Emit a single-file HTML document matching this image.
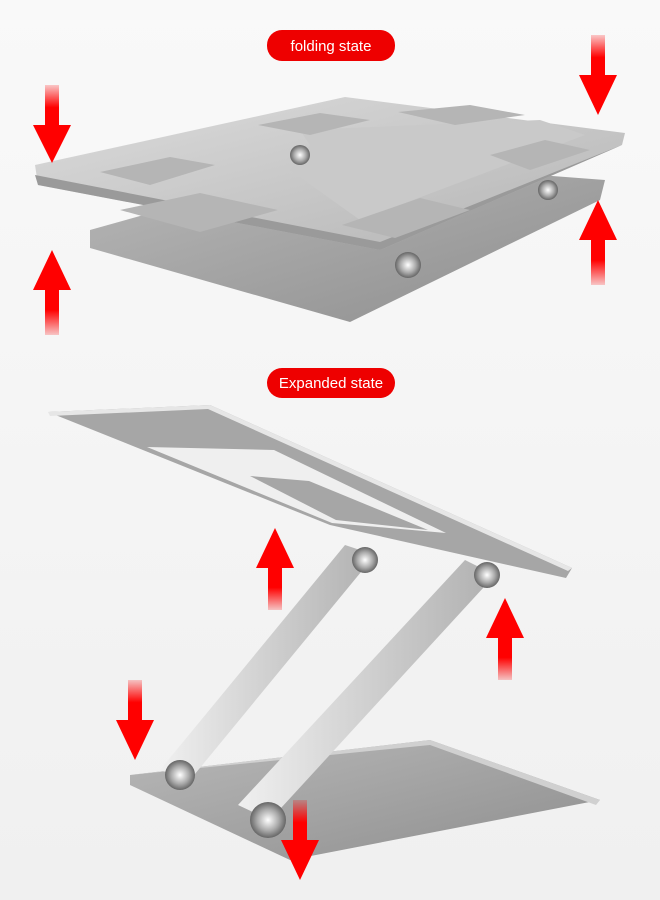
<!DOCTYPE html>
<html><head><meta charset="utf-8"><style>
html,body{margin:0;padding:0;background:#fff}
svg{display:block}
text{font-family:"Liberation Sans",sans-serif}
</style></head><body>
<svg width="660" height="900" viewBox="0 0 660 900" xmlns="http://www.w3.org/2000/svg">
<defs>
<linearGradient id="bg" x1="0" y1="0" x2="0" y2="1"><stop offset="0" stop-color="#f9f9f9"/><stop offset="1" stop-color="#f0f0f0"/></linearGradient>
<linearGradient id="plate" x1="0" y1="0" x2="1" y2="1"><stop offset="0" stop-color="#dcdcdc"/><stop offset="1" stop-color="#b4b4b4"/></linearGradient>
<linearGradient id="base" x1="0" y1="0" x2="1" y2="1"><stop offset="0" stop-color="#b8b8b8"/><stop offset="1" stop-color="#8e8e8e"/></linearGradient>
<linearGradient id="arm" x1="0" y1="0" x2="1" y2="0"><stop offset="0" stop-color="#f0f0f0"/><stop offset="1" stop-color="#b0b0b0"/></linearGradient>
<linearGradient id="au" x1="0" y1="1" x2="0" y2="0"><stop offset="0" stop-color="#ff0000" stop-opacity="0.2"/><stop offset="0.5" stop-color="#ff0000"/></linearGradient>
<linearGradient id="ad" x1="0" y1="0" x2="0" y2="1"><stop offset="0" stop-color="#ff0000" stop-opacity="0.2"/><stop offset="0.5" stop-color="#ff0000"/></linearGradient>
<radialGradient id="knob"><stop offset="0" stop-color="#fff"/><stop offset="0.6" stop-color="#aaa"/><stop offset="1" stop-color="#666"/></radialGradient>
</defs>
<rect width="660" height="900" fill="url(#bg)"/>

<!-- folding -->
<polygon points="90,230 340,160 605,180 600,200 350,322 90,248" fill="url(#base)"/>
<polygon points="35,165 345,97 625,133 622,145 380,250 38,185" fill="url(#plate)"/>
<polygon points="38,185 380,250 622,145 380,242 35,175" fill="#9a9a9a"/>
<polygon points="300,130 540,120 585,135 360,220 290,170 310,145" fill="#c9c9c9"/>
<g fill="#b5b5b5">
<polygon points="258,125 320,113 370,120 310,135"/>
<polygon points="398,112 470,105 525,115 455,125"/>
<polygon points="100,172 170,157 215,165 150,185"/>
<polygon points="120,210 200,193 278,210 200,232"/>
<polygon points="342,225 420,198 470,210 395,238"/>
<polygon points="490,155 545,140 590,150 530,170"/>
</g>
<circle cx="300" cy="155" r="10" fill="url(#knob)"/>
<circle cx="548" cy="190" r="10" fill="url(#knob)"/>
<circle cx="408" cy="265" r="13" fill="url(#knob)"/>

<!-- expanded -->
<polygon points="130,775 430,740 600,800 290,860 130,785" fill="url(#base)"/>
<polygon points="130,775 430,740 600,800 596,805 430,745" fill="#d0d0d0"/>
<polygon points="345,545 375,555 190,780 160,770" fill="url(#arm)"/>
<polygon points="465,560 495,575 270,820 238,805" fill="url(#arm)"/>
<polygon points="48,412 210,405 572,568 566,578 330,525" fill="#a6a6a6"/>
<polygon points="48,412 210,405 572,568 568,571 208,409 50,416" fill="#e6e6e6"/>
<polygon points="147,447 274,450 446,533 332,523" fill="#efefef"/>
<polygon points="250,476 309,481 428,530 336,520" fill="#a6a6a6"/>
<circle cx="365" cy="560" r="13" fill="url(#knob)"/>
<circle cx="487" cy="575" r="13" fill="url(#knob)"/>
<circle cx="180" cy="775" r="15" fill="url(#knob)"/>
<circle cx="268" cy="820" r="18" fill="url(#knob)"/>

<!-- arrows -->
<g>
<rect x="45" y="85" width="14" height="45" fill="url(#ad)"/><polygon points="33,125 71,125 52,163" fill="#f00"/>
<rect x="45" y="285" width="14" height="50" fill="url(#au)"/><polygon points="33,290 71,290 52,250" fill="#f00"/>
<rect x="591" y="35" width="14" height="45" fill="url(#ad)"/><polygon points="579,75 617,75 598,115" fill="#f00"/>
<rect x="591" y="235" width="14" height="50" fill="url(#au)"/><polygon points="579,240 617,240 598,200" fill="#f00"/>
<rect x="268" y="565" width="14" height="45" fill="url(#au)"/><polygon points="256,568 294,568 275,528" fill="#f00"/>
<rect x="498" y="635" width="14" height="45" fill="url(#au)"/><polygon points="486,638 524,638 505,598" fill="#f00"/>
<rect x="128" y="680" width="14" height="45" fill="url(#ad)"/><polygon points="116,720 154,720 135,760" fill="#f00"/>
<rect x="293" y="800" width="14" height="45" fill="url(#ad)"/><polygon points="281,840 319,840 300,880" fill="#f00"/>
</g>

<rect x="267" y="30" width="128" height="31" rx="15" fill="#ee0000"/>
<text x="331" y="51" text-anchor="middle" font-size="15" fill="#fff">folding state</text>
<rect x="267" y="368" width="128" height="30" rx="15" fill="#ee0000"/>
<text x="331" y="388" text-anchor="middle" font-size="15" fill="#fff">Expanded state</text>
</svg>
</body></html>
